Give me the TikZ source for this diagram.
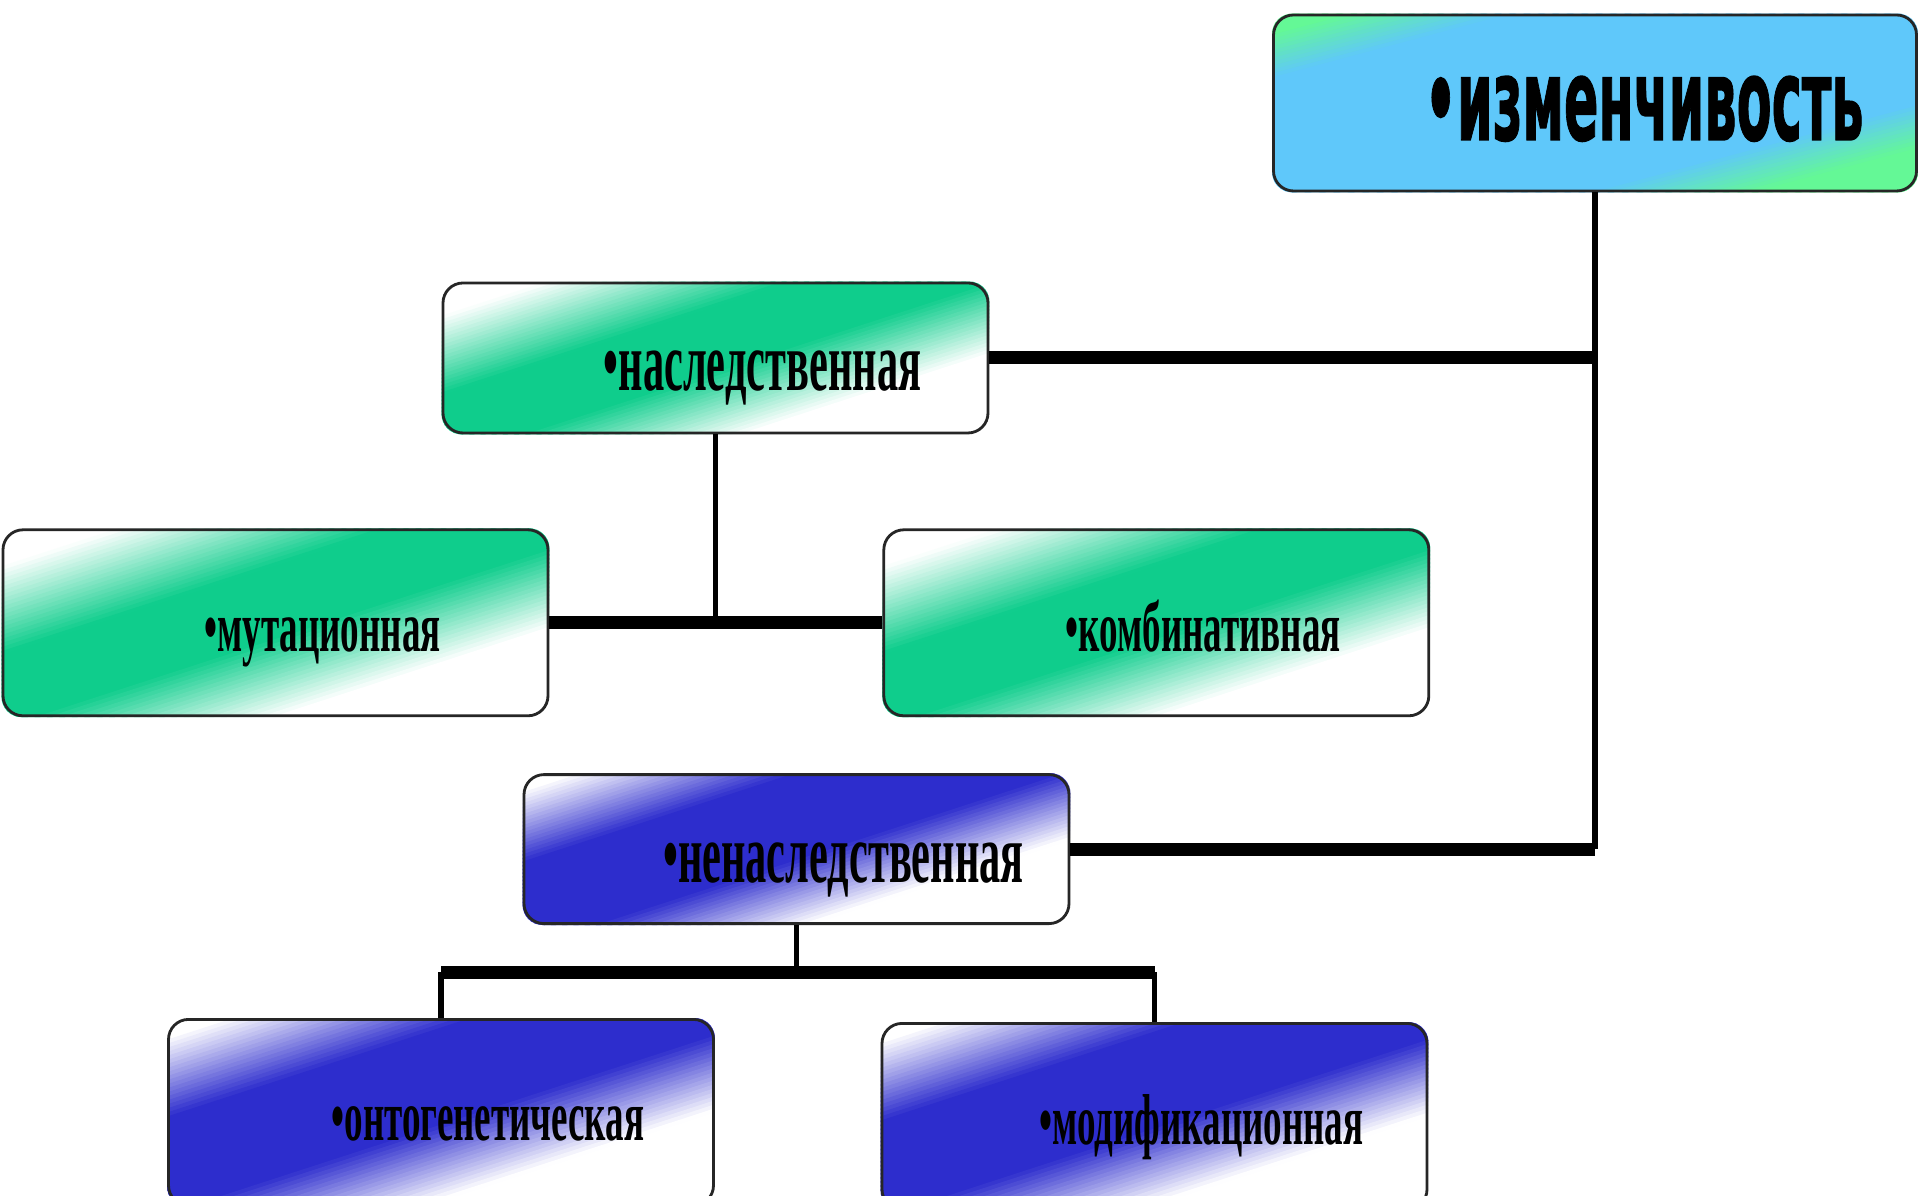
\documentclass[tikz,border=0pt]{standalone}
\usepackage{fontspec}
\setmainfont{Liberation Serif}
\newfontfamily\heavyfont{DejaVu Sans}[BoldFeatures={FakeBold=1.3}]
\usetikzlibrary{positioning, calc, backgrounds}
\definecolor{leafGreen}{RGB}{15,205,140}
\definecolor{inkBlue}{RGB}{45,45,205}
\definecolor{mintGreen}{RGB}{100,248,150}
\definecolor{skyBlue}{RGB}{95,200,250}
% diagonal band behind a box: node, band colour, base colour, angle, half span, rise start, rise end, fall start, fall end
\newcommand{\bandfill}[9]{%
  \begin{scope}
    \clip[rounded corners=0.2cm] (#1.south west) rectangle (#1.north east);
    \foreach \k in {0,...,89} {
      \pgfmathsetmacro{\bandT}{(\k+0.5)/90}
      \pgfmathsetmacro{\bandMix}{100*max(0,min(1,(\bandT-#6)/(#7-#6),(#9-\bandT)/(#9-#8)))}
      \pgfmathsetmacro{\bandA}{-#5+2*#5*\k/90}
      \pgfmathsetmacro{\bandB}{-#5+2*#5*(\k+1.4)/90}
      \pgfmathsetmacro{\pax}{\bandA*cos(#4)-4*sin(#4)}
      \pgfmathsetmacro{\pay}{\bandA*sin(#4)+4*cos(#4)}
      \pgfmathsetmacro{\pbx}{\bandB*cos(#4)-4*sin(#4)}
      \pgfmathsetmacro{\pby}{\bandB*sin(#4)+4*cos(#4)}
      \pgfmathsetmacro{\pcx}{\bandB*cos(#4)+4*sin(#4)}
      \pgfmathsetmacro{\pcy}{\bandB*sin(#4)-4*cos(#4)}
      \pgfmathsetmacro{\pdx}{\bandA*cos(#4)+4*sin(#4)}
      \pgfmathsetmacro{\pdy}{\bandA*sin(#4)-4*cos(#4)}
      \fill[#2!\bandMix!#3] ($(#1.center)+(\pax,\pay)$) -- ($(#1.center)+(\pbx,\pby)$) -- ($(#1.center)+(\pcx,\pcy)$) -- ($(#1.center)+(\pdx,\pdy)$) -- cycle;
    }
  \end{scope}}
\tikzstyle{levelbox} = [draw=black!85, line width=0.8pt, rounded corners=0.2cm, minimum width=5.45cm, inner sep=0pt, text depth=0pt]
\tikzstyle{mainrow} = [minimum height=1.5cm, text height=0.66cm]
\tikzstyle{subrow} = [minimum height=1.86cm, text height=0.57cm]
\tikzstyle{topbox} = [levelbox, minimum width=6.43cm, minimum height=1.76cm, text height=0.74cm]
\tikzstyle{bar} = [line width=3.7pt]
\tikzstyle{stem} = [line width=1.6pt]
\newcommand{\mainlabel}[1]{\hspace*{0.94cm}\scalebox{0.503}[1]{\fontsize{24}{24}\selectfont\bfseries •#1}}
\newcommand{\sublabel}[1]{\hspace*{0.94cm}\scalebox{0.514}[1]{\fontsize{20.5}{20.5}\selectfont\bfseries •#1}}
\newcommand{\toplabel}[1]{\hspace*{0.98cm}\scalebox{0.446}[1]{\fontsize{32.5}{32.5}\selectfont\heavyfont\bfseries •#1}}

\begin{document}
\begin{tikzpicture}
\useasboundingbox (0,0) rectangle (19.2,11.96);

\node (izm) [topbox] at (15.95,10.93) {\toplabel{изменчивость}};

\node (nasl) [levelbox, mainrow] at (7.155,8.38) {\mainlabel{наследственная}};
\node (mut) [levelbox, subrow, below=0.94cm of nasl, xshift=-4.4cm] {\sublabel{мутационная}};
\node (komb) [levelbox, subrow, right=3.33cm of mut] {\sublabel{комбинативная}};

\node (nenasl) [levelbox, mainrow, minimum height=1.49cm, below=0.56cm of mut, xshift=5.21cm] {\mainlabel{ненаследственная}};
\node (onto) [levelbox, subrow, below=0.93cm of nenasl, xshift=-3.555cm] {\sublabel{онтогенетическая}};
\node (mod) [levelbox, subrow, below=0.97cm of nenasl, xshift=3.58cm] {\sublabel{модификационная}};

% colour bands behind the boxes
\begin{pgfonlayer}{background}
\bandfill{izm}{skyBlue}{mintGreen}{-75}{1.68}{0.05}{0.18}{0.75}{0.88}
\bandfill{nasl}{leafGreen}{white}{-72}{1.56}{0.10}{0.34}{0.54}{0.76}
\bandfill{mut}{leafGreen}{white}{-72}{1.73}{0.10}{0.34}{0.54}{0.76}
\bandfill{komb}{leafGreen}{white}{-72}{1.73}{0.10}{0.34}{0.54}{0.76}
\bandfill{nenasl}{inkBlue}{white}{-72}{1.56}{0.05}{0.27}{0.53}{0.74}
\bandfill{onto}{inkBlue}{white}{-72}{1.73}{0.05}{0.27}{0.53}{0.74}
\bandfill{mod}{inkBlue}{white}{-72}{1.73}{0.05}{0.27}{0.53}{0.74}
\end{pgfonlayer}

% trunk from the top box
\coordinate (trunk) at (izm.south |- nenasl.east);
\draw[stem] (izm.south) -- (trunk);
\draw[bar] (nasl.east) -- (nasl.east -| trunk);
\draw[bar] (nenasl.east) -- (trunk);

% hereditary branch
\draw[stem] (nasl.south) -- (nasl.south |- mut.east);
\draw[bar] (mut.east) -- (komb.west);

% non-hereditary branch
\coordinate (split) at ($(nenasl.south)+(0,-0.47)$);
\draw[stem] (nenasl.south) -- (split);
\draw[bar] (split -| onto.north) -- (split -| mod.north);
\draw[stem] (split -| onto.north) -- (onto.north);
\draw[stem] (split -| mod.north) -- (mod.north);

\end{tikzpicture}
\end{document}
